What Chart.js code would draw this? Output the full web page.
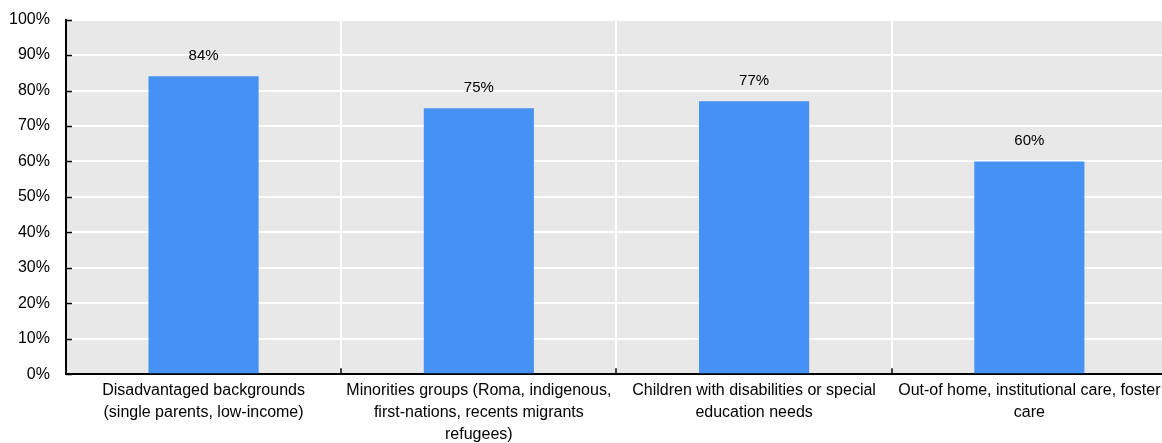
<!DOCTYPE html>
<html>
<head>
<meta charset="utf-8">
<script src="https://cdn.jsdelivr.net/npm/chart.js@4"></script>
<style>
  html, body { margin: 0; padding: 0; background: #fff; overflow: hidden; }
  #wrap { width: 1177px; height: 457px; margin-left: -7px; margin-top: -6px; }
</style>
</head>
<body>
<div id="wrap"><canvas id="typeChart" width="1177" height="457"></canvas></div>
<script>
// --- Data ---
const categories = [
    ['Disadvantaged backgrounds', '(single parents, low-income)'],
    ['Minorities groups (Roma, indigenous,', 'first-nations, recents migrants', 'refugees)'],
    ['Children with disabilities or special', 'education needs'],
    ['Out-of home, institutional care, foster', 'care']
];
const shares = [84, 75, 77, 60];
const yTicks = [0, 10, 20, 30, 40, 50, 60, 70, 80, 90, 100];

const FONT = "'Liberation Sans', Arial, sans-serif";
const BAR_COLOR = '#4691f4';
const PLOT_BG = '#e8e8e8';

// grey plot background
const plotBackground = {
    id: 'plotBackground',
    beforeDraw(chart) {
        const { ctx, chartArea: a } = chart;
        ctx.save();
        ctx.fillStyle = PLOT_BG;
        ctx.fillRect(a.left, a.top, a.right - a.left, a.bottom - a.top);
        ctx.restore();
    }
};

// short tick marks pointing into the plot
const innerTicks = {
    id: 'innerTicks',
    afterDatasetsDraw(chart) {
        const { ctx, scales: { x, y } } = chart;
        ctx.save();
        ctx.strokeStyle = '#000';
        ctx.lineWidth = 1.5;
        ctx.beginPath();
        y.ticks.forEach((t, i) => {
            const py = Math.round(y.getPixelForTick(i)) + 0.5;
            ctx.moveTo(x.left, py);
            ctx.lineTo(x.left + 6, py);
        });
        for (let i = 1; i < x.ticks.length; i++) {
            const px = Math.round((x.getPixelForTick(i - 1) + x.getPixelForTick(i)) / 2);
            ctx.moveTo(px, y.bottom);
            ctx.lineTo(px, y.bottom - 6);
        }
        ctx.stroke();
        ctx.restore();
    }
};

// value labels above the bars
const valueLabels = {
    id: 'valueLabels',
    afterDatasetsDraw(chart) {
        const { ctx } = chart;
        const meta = chart.getDatasetMeta(0);
        ctx.save();
        ctx.font = '15px ' + FONT;
        ctx.fillStyle = '#000';
        ctx.textAlign = 'center';
        ctx.textBaseline = 'bottom';
        meta.data.forEach((bar, i) => {
            ctx.fillText(shares[i] + '%', bar.x, bar.y - 13);
        });
        ctx.restore();
    }
};

const ctx = document.getElementById('typeChart').getContext('2d');
new Chart(ctx, {
    type: 'bar',
    data: {
        labels: categories,
        datasets: [{
            data: shares,
            backgroundColor: BAR_COLOR,
            borderWidth: 0,
            categoryPercentage: 1,
            barPercentage: 0.4
        }]
    },
    options: {
        responsive: false,
        animation: false,
        devicePixelRatio: 1,
        layout: { padding: { top: 14, left: 0, right: 3, bottom: 0 } },
        plugins: {
            legend: { display: false },
            tooltip: { enabled: false }
        },
        scales: {
            x: {
                grid: { color: '#ffffff', lineWidth: 2, drawTicks: false, offset: true },
                border: { color: '#000', width: 2 },
                ticks: {
                    color: '#000', padding: 6, maxRotation: 0, autoSkip: false,
                    font: { family: FONT, size: 16, lineHeight: 1.35 }
                }
            },
            y: {
                min: 0, max: 100,
                afterBuildTicks: (scale) => { scale.ticks = yTicks.map(v => ({ value: v })); },
                grid: { color: '#ffffff', lineWidth: 2, drawTicks: false },
                border: { color: '#000', width: 2 },
                ticks: {
                    color: '#000', padding: 16,
                    font: { family: FONT, size: 16 },
                    callback: (v) => v + '%'
                }
            }
        }
    },
    plugins: [plotBackground, innerTicks, valueLabels]
});
</script>
</body>
</html>
